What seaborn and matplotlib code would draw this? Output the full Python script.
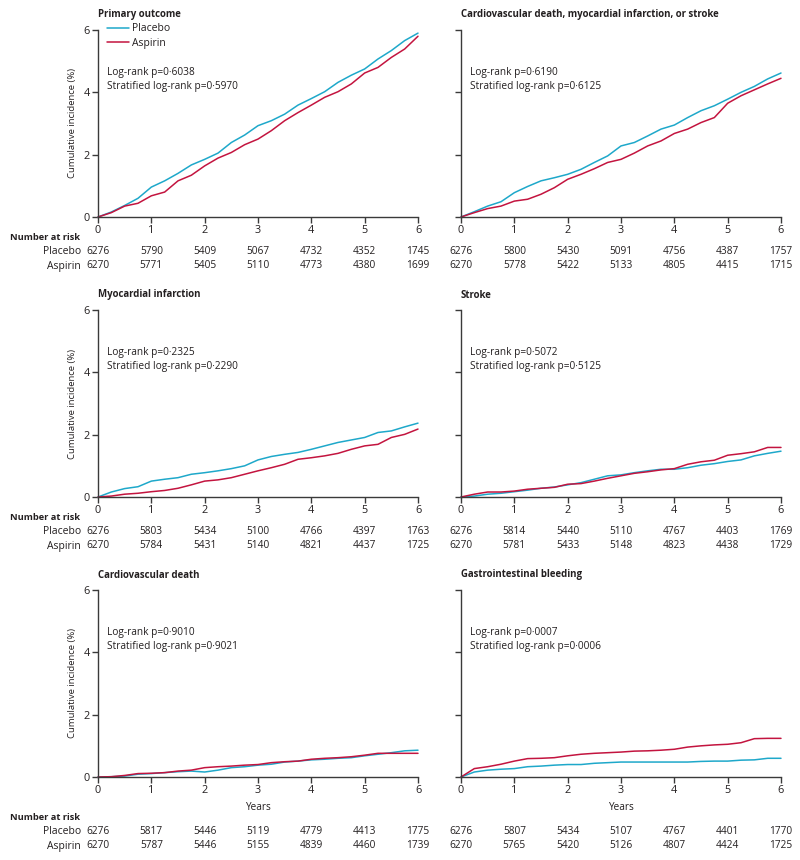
import numpy as np
import pandas as pd
import matplotlib
matplotlib.use("Agg")
import matplotlib.pyplot as plt
import matplotlib.transforms as mtransforms
import seaborn as sns

years = [0, 0.25, 0.5, 0.75, 1, 1.25, 1.5, 1.75, 2, 2.25, 2.5, 2.75, 3,
         3.25, 3.5, 3.75, 4, 4.25, 4.5, 4.75, 5, 5.25, 5.5, 5.75, 6]

# cumulative incidence (%)
primary_placebo = [0, 0.16, 0.37, 0.6, 0.96, 1.16, 1.4, 1.67, 1.85, 2.05, 2.39, 2.63, 2.93,
                   3.09, 3.3, 3.59, 3.8, 4.02, 4.32, 4.55, 4.75, 5.07, 5.34, 5.66, 5.9]
primary_aspirin = [0, 0.14, 0.35, 0.44, 0.68, 0.8, 1.16, 1.34, 1.64, 1.89, 2.07, 2.32, 2.5,
                   2.77, 3.09, 3.35, 3.59, 3.84, 4.02, 4.27, 4.62, 4.8, 5.12, 5.39, 5.8]
cvmis_placebo = [0, 0.17, 0.35, 0.49, 0.78, 0.98, 1.16, 1.26, 1.37, 1.53, 1.75, 1.96, 2.28,
                 2.39, 2.6, 2.82, 2.95, 3.19, 3.41, 3.57, 3.78, 4.0, 4.19, 4.43, 4.62]
cvmis_aspirin = [0, 0.14, 0.27, 0.35, 0.51, 0.57, 0.73, 0.94, 1.21, 1.37, 1.55, 1.75, 1.85,
                 2.05, 2.28, 2.44, 2.68, 2.82, 3.03, 3.19, 3.65, 3.89, 4.08, 4.27, 4.45]
mi_placebo = [0, 0.16, 0.27, 0.33, 0.51, 0.57, 0.62, 0.73, 0.78, 0.84, 0.91, 1.0, 1.19,
              1.3, 1.37, 1.43, 1.53, 1.64, 1.75, 1.83, 1.91, 2.07, 2.12, 2.25, 2.37]
mi_aspirin = [0, 0.03, 0.09, 0.12, 0.17, 0.21, 0.28, 0.39, 0.51, 0.55, 0.62, 0.73, 0.84,
              0.94, 1.05, 1.21, 1.26, 1.32, 1.4, 1.53, 1.64, 1.69, 1.91, 2.01, 2.18]
stroke_placebo = [0, 0.03, 0.09, 0.12, 0.17, 0.22, 0.28, 0.32, 0.39, 0.46, 0.57, 0.68, 0.71,
                  0.78, 0.84, 0.89, 0.89, 0.94, 1.02, 1.07, 1.14, 1.19, 1.32, 1.4, 1.47]
stroke_aspirin = [0, 0.09, 0.16, 0.16, 0.19, 0.25, 0.28, 0.31, 0.41, 0.43, 0.51, 0.6, 0.68,
                  0.76, 0.81, 0.87, 0.91, 1.05, 1.13, 1.18, 1.34, 1.39, 1.45, 1.59, 1.59]
cvd_placebo = [0, 0.01, 0.03, 0.09, 0.11, 0.14, 0.17, 0.19, 0.16, 0.22, 0.3, 0.33, 0.38,
               0.41, 0.48, 0.51, 0.55, 0.57, 0.6, 0.62, 0.68, 0.73, 0.78, 0.84, 0.86]
cvd_aspirin = [0, 0.01, 0.05, 0.11, 0.12, 0.14, 0.19, 0.22, 0.3, 0.33, 0.35, 0.38, 0.4,
               0.46, 0.49, 0.51, 0.57, 0.6, 0.62, 0.65, 0.7, 0.76, 0.76, 0.76, 0.76]
gib_placebo = [0, 0.16, 0.22, 0.25, 0.27, 0.33, 0.35, 0.38, 0.4, 0.4, 0.44, 0.46, 0.48,
               0.48, 0.48, 0.48, 0.48, 0.48, 0.5, 0.51, 0.51, 0.54, 0.55, 0.6, 0.6]
gib_aspirin = [0, 0.27, 0.33, 0.41, 0.51, 0.59, 0.6, 0.62, 0.68, 0.73, 0.76, 0.78, 0.8,
               0.83, 0.84, 0.86, 0.89, 0.96, 1.0, 1.03, 1.05, 1.1, 1.23, 1.24, 1.24]

titles = ["Primary outcome",
          "Cardiovascular death, myocardial infarction, or stroke",
          "Myocardial infarction", "Stroke",
          "Cardiovascular death", "Gastrointestinal bleeding"]
logrank = ["0·6038", "0·6190", "0·2325", "0·5072", "0·9010", "0·0007"]
strat_logrank = ["0·5970", "0·6125", "0·2290", "0·5125", "0·9021", "0·0006"]

risk_times = [0, 1, 2, 3, 4, 5, 6]
risk_placebo = [[6276, 5790, 5409, 5067, 4732, 4352, 1745],
                [6276, 5800, 5430, 5091, 4756, 4387, 1757],
                [6276, 5803, 5434, 5100, 4766, 4397, 1763],
                [6276, 5814, 5440, 5110, 4767, 4403, 1769],
                [6276, 5817, 5446, 5119, 4779, 4413, 1775],
                [6276, 5807, 5434, 5107, 4767, 4401, 1770]]
risk_aspirin = [[6270, 5771, 5405, 5110, 4773, 4380, 1699],
                [6270, 5778, 5422, 5133, 4805, 4415, 1715],
                [6270, 5784, 5431, 5140, 4821, 4437, 1725],
                [6270, 5781, 5433, 5148, 4823, 4438, 1729],
                [6270, 5787, 5446, 5155, 4839, 4460, 1739],
                [6270, 5765, 5420, 5126, 4807, 4424, 1725]]

curves = [(primary_placebo, primary_aspirin), (cvmis_placebo, cvmis_aspirin),
          (mi_placebo, mi_aspirin), (stroke_placebo, stroke_aspirin),
          (cvd_placebo, cvd_aspirin), (gib_placebo, gib_aspirin)]

sns.set_style("ticks")
plt.rcParams['font.family'] = ['Open Sans', 'DejaVu Sans']
txt = "#231f20"
palette = {"Placebo": "#1ea8ca", "Aspirin": "#c3143f"}
fs = 7.2

W, H = 800, 860
fig = plt.figure(figsize=(8, 8.6), dpi=100)

def fy(py):
    return 1 - py / H

col_x = [98, 461]
row_top = [30, 310, 590]
ax_w, ax_h = 320, 187

for i in range(6):
    r, c = divmod(i, 2)
    x0, top = col_x[c], row_top[r]
    ax = fig.add_axes([x0 / W, fy(top + ax_h), ax_w / W, ax_h / H])
    pl, asp = curves[i]
    df = pd.DataFrame({"Years": years * 2, "inc": pl + asp,
                       "group": ["Placebo"] * len(years) + ["Aspirin"] * len(years)})
    sns.lineplot(data=df, x="Years", y="inc", hue="group", palette=palette,
                 hue_order=["Placebo", "Aspirin"], linewidth=1.1, ax=ax,
                 legend=(i == 0), clip_on=False)
    ax.set_xlim(0, 6)
    ax.set_ylim(0, 6)
    ax.set_xticks(range(7))
    ax.set_yticks([0, 2, 4, 6])
    ax.set_xlabel("")
    ax.set_ylabel("")
    sns.despine(ax=ax)
    for s in ["left", "bottom"]:
        ax.spines[s].set_color("#3a3a3a")
        ax.spines[s].set_linewidth(1.0)
    ax.tick_params(length=4, width=1.0, color="#3a3a3a", labelsize=fs + 0.6,
                   labelcolor=txt, pad=2)
    if c == 1:
        ax.set_yticklabels([])
    if i == 0:
        ax.legend(loc="upper left", bbox_to_anchor=(0.028, 1.035), frameon=False,
                  borderaxespad=0, borderpad=0, handlelength=2.1, handletextpad=0.3,
                  labelspacing=0.3, fontsize=fs + 0.3, labelcolor=txt)
    # title
    fig.text(x0 / W, fy(top - 15), titles[i], fontsize=6.9, fontweight="bold",
             color=txt, ha="left", va="center")
    # log-rank text
    fig.text((x0 + 9) / W, fy(top + 42), "Log-rank p=" + logrank[i], fontsize=7.3,
             color=txt, ha="left", va="center")
    fig.text((x0 + 9) / W, fy(top + 57), "Stratified log-rank p=" + strat_logrank[i],
             fontsize=7.3, color=txt, ha="left", va="center")
    if c == 0:
        fig.text(72 / W, fy(top + ax_h / 2), "Cumulative incidence (%)", rotation=90,
                 fontsize=6.8, color=txt, ha="center", va="center")
    # number at risk
    tr = mtransforms.blended_transform_factory(ax.transData, fig.transFigure)
    base = top + ax_h
    if r == 2:
        ax.text(3, fy(base + 30), "Years", transform=tr, fontsize=fs, color=txt,
                ha="center", va="center")
        base += 20
    if c == 0:
        fig.text(10 / W, fy(base + 21), "Number at risk", fontsize=6.7,
                 fontweight="bold", color=txt, ha="left", va="center")
        fig.text(81 / W, fy(base + 35), "Placebo", fontsize=fs + 0.3, color=txt,
                 ha="right", va="center")
        fig.text(81 / W, fy(base + 49), "Aspirin", fontsize=fs + 0.3, color=txt,
                 ha="right", va="center")
    for t, vp, va_ in zip(risk_times, risk_placebo[i], risk_aspirin[i]):
        ax.text(t, fy(base + 35), str(vp), transform=tr, fontsize=fs + 0.1,
                color=txt, ha="center", va="center")
        ax.text(t, fy(base + 49), str(va_), transform=tr, fontsize=fs + 0.1,
                color=txt, ha="center", va="center")

fig.savefig("out.png", dpi=100)
